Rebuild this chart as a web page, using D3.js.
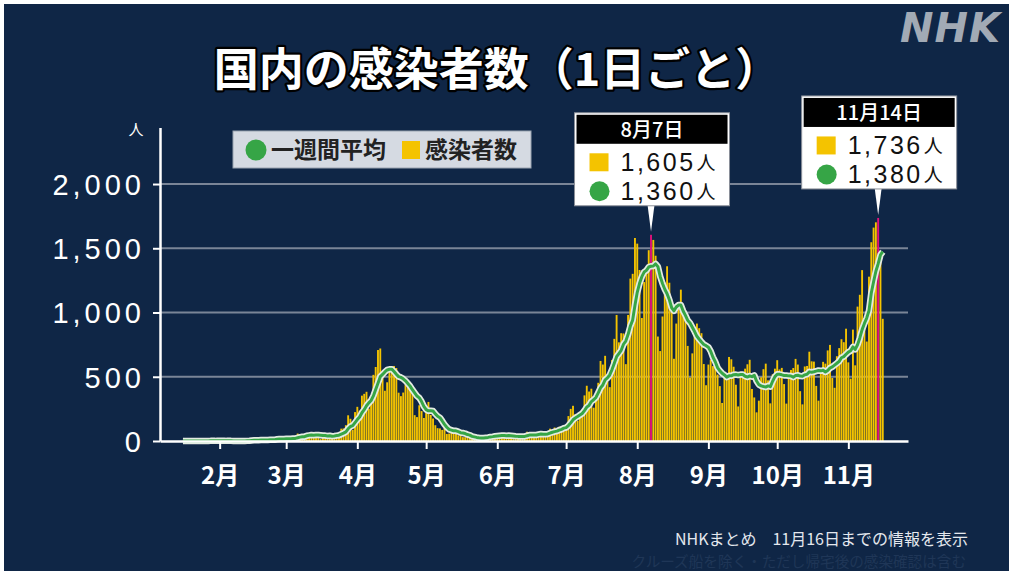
<!DOCTYPE html>
<html><head><meta charset="utf-8">
<script src="https://cdn.jsdelivr.net/npm/d3@7"></script>
<style>body{margin:0;background:#fff;} svg{display:block}</style>
</head><body>
<svg id="chart" width="1014" height="575"></svg>
<script>
// ---- data ----
const firstDay = "2020-01-16";
const casesJan = [1,0,0,0,0,0,0,0,1,1,1,0,3,1,3,4];
const casesFeb = [1,0,0,1,0,0,0,0,0,2,0,1,4,8,12,6,6,7,3,11,12,13,9,8,14,24,23,22,11];
const casesMar = [15,16,10,33,33,58,47,33,26,59,52,56,41,63,29,15,43,44,39,53,35,42,39,65,96,98,123,200,173,87,225];
const casesApr = [266,235,353,367,383,252,351,515,576,708,720,507,391,457,549,582,584,568,376,349,377,439,442,437,371,201,186,278,233,179];
const casesMay = [262,304,203,175,123,100,98,86,115,55,58,86,55,99,45,58,30,30,33,25,30,20,26,14,21,34,38,44,50,35,39];
const casesJun = [33,51,40,46,40,44,35,15,37,36,42,41,46,72,48,39,43,41,70,69,56,45,58,96,82,105,100,111,86,118];
const casesJul = [125,194,250,274,208,158,207,206,355,430,385,407,259,333,453,623,595,663,510,419,631,795,981,768,839,837,598,981,1264,1301,1580];
const casesAug = [1536,1331,957,1237,1354,1485,1605,1565,1442,813,700,969,1176,1360,1232,1012,640,914,1075,1178,1034,990,740,494,682,849,914,878,839,599,434];
const casesSep = [595,633,583,636,517,427,296,508,510,654,636,578,438,269,531,511,563,597,632,405,339,223,314,496,559,602,472,293,519,563];
const casesOct = [629,557,569,443,291,498,553,568,639,595,388,285,580,584,695,620,618,429,314,561,616,602,705,748,491,414,660,723,792,769,874];
const casesNov = [612,485,867,589,1046,1138,1330,952,774,1279,1547,1661,1702,1736,1438,951];

const avgJan = [0,0,0,0,0,0,0,0,0,0,0,0,1,1,1,2];
const avgFeb = [2,2,2,1,1,1,0,0,0,0,0,0,1,2,4,5,5,6,7,8,8,8,9,9,10,13,15,16,16];
const avgMar = [17,18,17,19,20,25,30,33,34,41,44,47,45,47,47,45,43,42,39,41,37,39,42,45,53,61,71,95,113,120,143];
const avgApr = [167,187,220,244,274,297,315,351,400,450,501,518,538,553,558,559,541,520,501,495,484,468,448,427,399,374,350,336,307,269];
const avgMay = [244,235,235,233,211,192,181,156,129,107,91,85,79,79,73,65,62,58,50,46,36,32,28,25,24,24,26,28,32,34,37];
const avgJun = [39,41,42,42,41,42,41,39,37,36,36,36,36,41,46,46,47,47,51,55,52,52,55,62,68,73,77,85,91,100];
const avgJul = [104,120,141,165,179,190,202,214,237,263,278,307,321,339,375,413,436,476,491,514,556,605,656,681,706,753,778,828,895,941,1057];
const avgAug = [1157,1227,1279,1315,1328,1354,1360,1362,1378,1357,1281,1226,1181,1146,1099,1037,1013,1043,1058,1059,1012,978,939,918,885,852,815,792,771,751,742];
const avgSep = [730,699,652,617,571,546,527,514,497,507,507,516,517,513,517,517,504,498,506,501,511,467,439,429,424,420,429,423,465,501];
const avgOct = [520,519,515,510,510,507,506,497,509,512,505,504,515,520,538,535,539,544,549,546,550,537,549,568,577,591,605,620,648,657,675];
const avgNov = [692,702,732,713,749,802,867,915,957,1015,1152,1240,1321,1380,1448,1473];

const monthStarts = ["2020-02-01","2020-03-01","2020-04-01","2020-05-01","2020-06-01","2020-07-01","2020-08-01","2020-09-01","2020-10-01","2020-11-01"];
const monthLabels = ["2月","3月","4月","5月","6月","7月","8月","9月","10月","11月"];
const yTickValues = [0,500,1000,1500,2000];
const calloutDates = ["2020-08-07","2020-11-14"];
const calloutLabels = ["8月7日","11月14日"];
const legendLabels = ["一週間平均","感染者数"];
const titleText = "国内の感染者数（1日ごと）";
const footerLines = ["NHKまとめ　11月16日までの情報を表示","クルーズ船を除く・ただし帰宅後の感染確認は含む"];

// ---- build series ----
const parse = d3.timeParse("%Y-%m-%d");
const casesAll = [].concat(casesJan,casesFeb,casesMar,casesApr,casesMay,casesJun,casesJul,casesAug,casesSep,casesOct,casesNov);
const avgAll = [].concat(avgJan,avgFeb,avgMar,avgApr,avgMay,avgJun,avgJul,avgAug,avgSep,avgOct,avgNov);
const d0 = parse(firstDay);
const series = casesAll.map((v,i)=>({date:d3.timeDay.offset(d0,i), cases:v, avg:avgAll[i]}));

const svg = d3.select("#chart");
const NAVY = "#0f2646", YELLOW = "#f4c300", GREEN = "#36a546", MAGENTA = "#e2127c";
const JP = "'Noto Sans CJK JP','Noto Sans',sans-serif";
const NUM = "'Liberation Sans',Arial,sans-serif";

svg.append("rect").attr("width",1014).attr("height",575).attr("fill","#fff");
svg.append("rect").attr("x",4).attr("y",4).attr("width",1005).attr("height",567).attr("fill",NAVY);

const x = d3.scaleTime().domain([parse("2020-01-06"), parse("2020-11-27")]).range([160,908]);
const y = d3.scaleLinear().domain([0,2440]).range([441,127.5]);
const dayW = x(parse("2020-01-07")) - x(parse("2020-01-06"));
const barW = dayW*0.82;

// gridlines
svg.append("g").selectAll("line").data(yTickValues.filter(v=>v>0)).join("line")
  .attr("x1",160).attr("x2",908).attr("y1",d=>y(d)).attr("y2",d=>y(d))
  .attr("stroke","#7a8597").attr("stroke-width",2);

// bars
const hlSet = new Set(calloutDates);
const fmtKey = d3.timeFormat("%Y-%m-%d");
svg.append("g").selectAll("rect").data(series).join("rect")
  .attr("x",d=>x(d.date)-barW/2).attr("width",barW)
  .attr("y",d=>y(d.cases)).attr("height",d=>y(0)-y(d.cases))
  .attr("fill",d=>hlSet.has(fmtKey(d.date))?MAGENTA:YELLOW);

// average line
const line = d3.line().x(d=>x(d.date)).y(d=>y(d.avg));
svg.append("path").datum(series).attr("d",line).attr("fill","none")
  .attr("stroke","#e4ebe2").attr("stroke-width",6.5).attr("stroke-linejoin","round");
svg.append("path").datum(series).attr("d",line).attr("fill","none")
  .attr("stroke",GREEN).attr("stroke-width",3).attr("stroke-linejoin","round");

// y axis
const yAxis = svg.append("g").attr("transform","translate(160,0)")
  .call(d3.axisLeft(y).tickValues(yTickValues).tickSize(7).tickSizeOuter(0).tickPadding(8).tickFormat(d3.format(",")));
yAxis.select(".domain").attr("stroke","#fff").attr("stroke-width",2.5);
yAxis.selectAll(".tick line").attr("stroke","#fff").attr("stroke-width",2);
yAxis.selectAll("text").attr("fill","#fff").attr("font-family",NUM)
  .attr("font-size",29).attr("letter-spacing",4).attr("dy","0.36em");

// x axis
const mDates = monthStarts.map(parse);
const xAxis = svg.append("g").attr("transform","translate(0,441)")
  .call(d3.axisBottom(x).tickValues(mDates).tickSize(8).tickSizeOuter(0).tickFormat((d,i)=>monthLabels[i]));
xAxis.select(".domain").attr("stroke","#fff").attr("stroke-width",2.5);
xAxis.selectAll(".tick line").attr("stroke","#fff").attr("stroke-width",2);
xAxis.selectAll("text").attr("fill","#fff").attr("font-family",JP).attr("font-weight",700)
  .attr("font-size",24).attr("y",43).attr("dy",0);

// unit
svg.append("text").attr("x",136).attr("y",135).attr("text-anchor","middle")
  .attr("fill","#fff").attr("font-family",JP).attr("font-size",15).text("人");

// legend
const lg = svg.append("g");
lg.append("rect").attr("x",233).attr("y",131).attr("width",298).attr("height",37)
  .attr("fill","#d5dae2").attr("stroke","#9aa3b0").attr("stroke-width",1);
lg.append("circle").attr("cx",256).attr("cy",150).attr("r",10.5).attr("fill",GREEN);
lg.append("text").attr("x",271).attr("y",158).attr("font-family",JP).attr("font-weight",700)
  .attr("font-size",23).attr("fill","#222").text(legendLabels[0]);
lg.append("rect").attr("x",402).attr("y",141).attr("width",18).attr("height",18).attr("fill",YELLOW);
lg.append("text").attr("x",425).attr("y",158).attr("font-family",JP).attr("font-weight",700)
  .attr("font-size",23).attr("fill","#222").text(legendLabels[1]);

// callouts
const fmtN = d3.format(",");
calloutDates.forEach((ds,i)=>{
  const d = series.find(s=>fmtKey(s.date)===ds);
  const cx = x(d.date);
  const tipY = y(d.cases) - 3;
  const boxBottom = y(d.cases) - 29;
  const boxH = 93, boxW = 155;
  const bx = cx - boxW/2 + 1, by = boxBottom - boxH;
  const g = svg.append("g");
  g.append("path").attr("d",`M${cx-3.5},${boxBottom-1} L${cx+3.5},${boxBottom-1} L${cx},${tipY} Z`).attr("fill","#fff");
  g.append("rect").attr("x",bx).attr("y",by).attr("width",boxW).attr("height",boxH)
    .attr("fill","#fff").attr("stroke","#8a8f98").attr("stroke-width",1);
  g.append("rect").attr("x",bx+2).attr("y",by+2).attr("width",boxW-4).attr("height",29).attr("fill","#000");
  g.append("text").attr("x",bx+boxW/2).attr("y",by+24).attr("text-anchor","middle")
    .attr("fill","#fff").attr("font-family",JP).attr("font-weight",500).attr("font-size",20).text(calloutLabels[i]);
  const rows = [{v:d.cases, cy:by+49.5}, {v:d.avg, cy:by+78.5}];
  g.append("rect").attr("x",bx+15).attr("y",rows[0].cy-9).attr("width",19).attr("height",18).attr("fill",YELLOW);
  g.append("circle").attr("cx",bx+25).attr("cy",rows[1].cy).attr("r",10).attr("fill",GREEN);
  rows.forEach(r=>{
    const t = g.append("text").attr("x",bx+46).attr("y",r.cy+9).attr("fill","#111").attr("font-family",NUM)
      .attr("font-size",25).attr("letter-spacing",2.5).text(fmtN(r.v));
    const w = t.node().getComputedTextLength();
    g.append("text").attr("x",bx+46+w+1).attr("y",r.cy+8).attr("fill","#111").attr("font-family",JP)
      .attr("font-size",19).text("人");
  });
});

// title
svg.append("text").attr("x",497).attr("y",86).attr("text-anchor","middle")
  .attr("font-family",JP).attr("font-weight",700).attr("font-size",45)
  .attr("fill","#fff").attr("stroke","#000").attr("stroke-width",4.5)
  .attr("paint-order","stroke").attr("stroke-linejoin","round").text(titleText);

// NHK logo
svg.append("text").attr("x",1001).attr("y",42).attr("text-anchor","end")
  .attr("font-family","'DejaVu Sans',sans-serif").attr("font-weight",700).attr("font-style","italic")
  .attr("font-size",40).attr("letter-spacing",1).attr("fill","#a2aab5").text("NHK");

// footer
svg.append("text").attr("x",968).attr("y",545).attr("text-anchor","end")
  .attr("font-family",JP).attr("font-size",16).attr("fill","#e4e8ee").text(footerLines[0]);
svg.append("text").attr("x",966).attr("y",566.5).attr("text-anchor","end")
  .attr("font-family",JP).attr("font-size",14.6).attr("fill","#1f3657").text(footerLines[1]);
</script>
</body></html>
